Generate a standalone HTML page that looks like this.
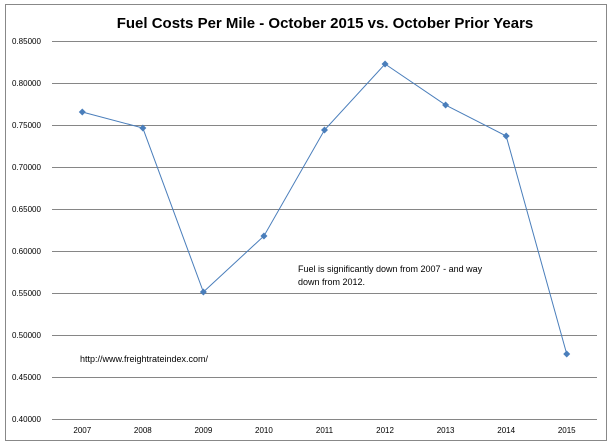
<!DOCTYPE html>
<html><head><meta charset="utf-8"><style>
body{margin:0;background:#fff;}
svg{display:block;font-family:"Liberation Sans",sans-serif;}
</style></head><body>
<svg id="chart" width="611" height="444" viewBox="0 0 611 444">
<rect x="5.5" y="4.5" width="601" height="436" fill="#fff" stroke="#888" stroke-width="1"/>
<text x="325" y="28" text-anchor="middle" font-size="15" font-weight="bold" fill="#000">Fuel Costs Per Mile - October 2015 vs. October Prior Years</text>
<g id="grid"></g><g id="yl"></g><g id="xl"></g><g id="series"></g>
<text x="298" y="272" font-size="9" fill="#000">Fuel is significantly down from 2007 - and way</text>
<text x="298" y="285" font-size="9" fill="#000">down from 2012.</text>
<text x="80" y="362" font-size="9" fill="#000">http://www.freightrateindex.com/</text>
</svg>
<script>
const categories=["2007","2008","2009","2010","2011","2012","2013","2014","2015"];
const values=[0.7655,0.7464,0.5512,0.6179,0.744,0.8226,0.7738,0.7369,0.4774];
const yTicks=[0.40,0.45,0.50,0.55,0.60,0.65,0.70,0.75,0.80,0.85];
const NS="http://www.w3.org/2000/svg";
const L=52,R=597,T=41,B=419,yMin=0.40,yMax=0.85;
const y=v=>B-(v-yMin)/(yMax-yMin)*(B-T);
const step=(R-L)/categories.length;
const x=i=>L+step*(i+0.5);
function mk(t,a,p){const e=document.createElementNS(NS,t);for(const k in a)e.setAttribute(k,a[k]);p.appendChild(e);return e;}
const g=document.getElementById('grid'),yl=document.getElementById('yl'),xl=document.getElementById('xl'),s=document.getElementById('series');
yTicks.forEach(v=>{
 const ln=mk('line',{x1:L,x2:R,y1:y(v)+0.5,y2:y(v)+0.5,stroke:'#868686','stroke-width':1},g);
 
 
 const t=mk('text',{x:12,y:y(v)+3,'font-size':8,fill:'#000'},yl);
 t.textContent=v.toFixed(5);
 
 
});
categories.forEach((c,i)=>{
 const t=mk('text',{x:x(i),y:433,'font-size':8,'text-anchor':'middle',fill:'#000'},xl);
 t.textContent=c;
 
 
});
const pl=mk('polyline',{points:values.map((v,i)=>x(i)+','+y(v)).join(' '),fill:'none',stroke:'#4a7ebb','stroke-width':1},s);


values.forEach((v,i)=>{
 const cx=x(i),cy=y(v);
 const m=mk('polygon',{points:`${cx},${cy-3.5} ${cx+3.5},${cy} ${cx},${cy+3.5} ${cx-3.5},${cy}`,fill:'#4a7ebb'},s);
 
 
});
</script>
</body></html>
